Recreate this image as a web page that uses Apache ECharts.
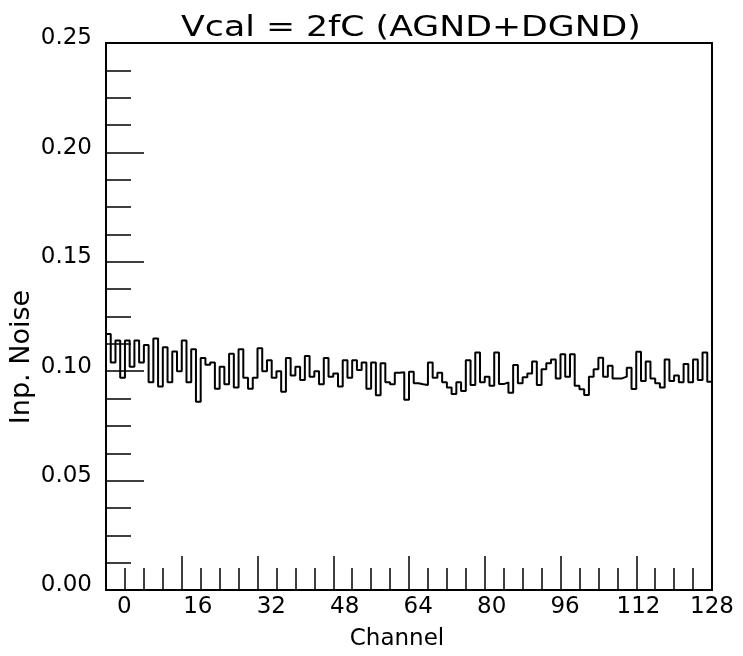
<!DOCTYPE html>
<html><head><meta charset="utf-8">
<script src="https://cdn.jsdelivr.net/npm/echarts@6/dist/echarts.min.js"></script>
<style>html,body{margin:0;padding:0;background:#fff}#c{width:743px;height:656px}</style>
</head><body><div id="c"></div>
<script>
// Histogram: one value per channel bin (bins 0..127, each one channel wide)
const noise = [
  0.117, 0.104, 0.114, 0.097, 0.114, 0.102, 0.114, 0.104, 0.112, 0.095,
  0.115, 0.093, 0.111, 0.095, 0.109, 0.100, 0.114, 0.095, 0.110, 0.086,
  0.106, 0.103, 0.104, 0.092, 0.102, 0.094, 0.108, 0.0925, 0.110, 0.097,
  0.092, 0.097, 0.1105, 0.100, 0.105, 0.097, 0.100, 0.0906, 0.106, 0.098,
  0.102, 0.096, 0.107, 0.0975, 0.100, 0.094, 0.106, 0.0975, 0.099, 0.093,
  0.105, 0.097, 0.105, 0.1005, 0.104, 0.092, 0.104, 0.089, 0.1036, 0.095,
  0.094, 0.0993, 0.0995, 0.087, 0.0998, 0.0945, 0.094, 0.0937, 0.104, 0.097,
  0.0993, 0.095, 0.0925, 0.0896, 0.095, 0.091, 0.105, 0.0937, 0.1085, 0.095,
  0.0975, 0.0934, 0.1085, 0.0941, 0.0949, 0.0902, 0.1028, 0.0945, 0.0972, 0.099,
  0.1044, 0.0937, 0.1009, 0.1036, 0.1054, 0.0967, 0.1077, 0.0975, 0.1077, 0.0934,
  0.0917, 0.0891, 0.0975, 0.1009, 0.1062, 0.0975, 0.1025, 0.0967, 0.0967, 0.0975,
  0.1016, 0.0919, 0.1089, 0.0955, 0.1044, 0.0967, 0.0945, 0.0925, 0.1054, 0.0955,
  0.0980, 0.0949, 0.1033, 0.0949, 0.1054, 0.0960, 0.1085, 0.0952
];
const xTickLabels = [0, 16, 32, 48, 64, 80, 96, 112, 128];
const yTickLabels = [0.00, 0.05, 0.10, 0.15, 0.20, 0.25];
const titleText = 'Vcal = 2fC (AGND+DGND)';
const xTitle = 'Channel';
const yTitle = 'Inp. Noise';

// step points: left edge of each bin, plus closing right edge
const stepData = noise.map((v, i) => [i, v]);
stepData.push([noise.length, noise[noise.length - 1]]);

const FONT = '"DejaVu Sans", "Liberation Sans", sans-serif';
const chart = echarts.init(document.getElementById('c'), null, {renderer: 'canvas'});
const black = '#000';
chart.setOption({
  animation: false,
  backgroundColor: '#fff',
  grid: {left: 106, top: 43, width: 606, height: 547, show: true, borderColor: black, borderWidth: 2, backgroundColor: 'transparent'},
  xAxis: [
    {type: 'value', min: 0, max: 128, interval: 4, position: 'bottom',
     axisLine: {show: true, lineStyle: {color: black, width: 2}},
     axisTick: {show: true, inside: true, length: 22, lineStyle: {color: black, width: 1.5}},
     axisLabel: {show: false}, splitLine: {show: false}},
    {type: 'value', min: 0, max: 128, interval: 16, position: 'bottom',
     axisLine: {show: false},
     axisTick: {show: true, inside: true, length: 34, lineStyle: {color: black, width: 1.5}},
     axisLabel: {show: false}, splitLine: {show: false}},
    {type: 'value', min: -4, max: 128, interval: 4, position: 'bottom',
     axisLine: {show: false}, axisTick: {show: false}, splitLine: {show: false},
     axisLabel: {show: true, interval: 0, margin: 6, color: black, fontSize: 23, fontFamily: FONT,
       formatter: v => xTickLabels.indexOf(Math.round(v)) >= 0 && Math.abs(v - Math.round(v)) < 1e-6 ? String(Math.round(v)) : ''}}
  ],
  yAxis: [
    {type: 'value', min: 0, max: 0.25, interval: 0.0125, position: 'left',
     axisLine: {show: true, lineStyle: {color: black, width: 2}},
     axisTick: {show: true, inside: true, length: 25, lineStyle: {color: black, width: 1.5}},
     axisLabel: {show: false}, splitLine: {show: false}},
    {type: 'value', min: 0, max: 0.25, interval: 0.05, position: 'left',
     axisLine: {show: false},
     axisTick: {show: true, inside: true, length: 38, lineStyle: {color: black, width: 1.5}},
     splitLine: {show: false},
     axisLabel: {show: true, margin: 14, color: black, fontSize: 23, fontFamily: FONT,
       verticalAlign: 'bottom', lineHeight: 9,
       formatter: v => {
         const hit = yTickLabels.find(t => Math.abs(t - v) < 1e-6);
         return hit === undefined ? '' : hit.toFixed(2);
       }}}
  ],
  series: [{
    type: 'line', step: 'end', xAxisIndex: 0, yAxisIndex: 0, symbol: 'none',
    lineStyle: {color: black, width: 2}, data: stepData, silent: true
  }],
  graphic: [
    {type: 'text', x: 411, y: 29, scaleX: 1.24, style: {text: titleText, font: '28px ' + FONT, fill: black, textAlign: 'center', textVerticalAlign: 'middle'}},
    {type: 'text', x: 397, y: 639, style: {text: xTitle, font: '23px ' + FONT, fill: black, textAlign: 'center', textVerticalAlign: 'middle'}},
    {type: 'text', x: 22, y: 357, rotation: Math.PI / 2, style: {text: yTitle, font: '27px ' + FONT, fill: black, textAlign: 'center', textVerticalAlign: 'middle'}}
  ]
});
</script></body></html>
